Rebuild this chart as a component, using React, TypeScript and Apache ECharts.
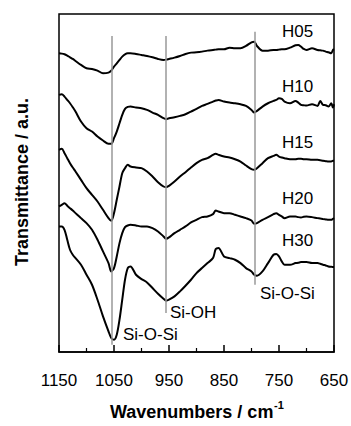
import React, { useEffect, useRef } from "react";
import * as echarts from "echarts";

// Wavenumber grid (cm^-1) shared by all spectra
const wavenumbers = [
  1150, 1145, 1140, 1135, 1130, 1125, 1120, 1110, 1100, 1090, 1080, 1070, 1060, 1055, 1050, 1045, 1040, 1035, 1030, 1025, 1020,
  1010, 1000, 990, 980, 970, 960, 955, 950, 940, 930, 920, 910, 900,
  890, 880, 870, 865, 860, 850, 840, 830, 820, 810, 800, 795, 790,
  780, 770, 760, 755, 750, 745, 740, 730, 720, 715, 710, 705, 700,
  690, 680, 675, 670, 665, 660, 655, 652, 650,
];

// Transmittance (a.u., offset spectra)
const h05 = [
  897, 896, 894, 890, 885, 880, 874, 862, 852, 850, 845, 837, 839, 845, 857, 867, 877, 887, 894, 897, 897,
  895, 892, 889, 885, 880, 877, 878, 880, 884, 889, 895, 899, 900,
  902, 905, 907, 908, 909, 909, 914, 912, 912, 919, 930, 932, 919,
  905, 905, 907, 907, 908, 909, 909, 914, 921, 922, 917, 910, 907,
  912, 907, 906, 905, 902, 900, 897, 907, 909,
];
const h10 = [
  772, 774, 767, 757, 747, 735, 722, 692, 672, 662, 647, 635, 625, 625, 642, 662, 687, 712, 730, 736, 737,
  734, 732, 727, 719, 712, 702, 699, 702, 705, 709, 714, 722, 730,
  739, 745, 752, 755, 757, 752, 749, 747, 744, 739, 727, 719, 724,
  737, 747, 754, 757, 762, 760, 752, 747, 754, 749, 742, 741, 740,
  744, 739, 754, 742, 741, 737, 747, 734, 744,
];
const h15 = [
  607, 610, 597, 582, 567, 554, 542, 517, 492, 472, 452, 427, 402, 394, 417, 457, 497, 537, 552, 562, 557,
  554, 552, 542, 527, 510, 497, 495, 499, 512, 527, 540, 554, 567,
  577, 582, 592, 595, 592, 587, 584, 579, 572, 560, 549, 547, 552,
  567, 582, 589, 592, 587, 584, 582, 579, 579, 580, 580, 579, 579,
  577, 577, 576, 574, 573, 572, 572, 574, 574,
];
const h20 = [
  437, 442, 447, 439, 432, 425, 417, 402, 387, 367, 337, 302, 267, 242, 252, 287, 327, 357, 375, 380, 382,
  380, 377, 377, 372, 362, 347, 340, 344, 357, 367, 377, 389, 397,
  405, 407, 414, 425, 422, 417, 417, 412, 407, 402, 395, 385, 387,
  397, 405, 414, 417, 412, 407, 402, 407, 407, 405, 404, 406, 407,
  405, 402, 401, 399, 398, 397, 397, 400, 402,
];
const h30 = [
  377, 377, 367, 337, 307, 292, 282, 262, 232, 202, 157, 107, 62, 42, 37, 52, 97, 157, 217, 252, 257,
  232, 219, 209, 192, 175, 160, 154, 157, 167, 182, 199, 217, 237,
  252, 267, 282, 309, 312, 287, 282, 277, 267, 252, 242, 232, 229,
  242, 267, 292, 294, 287, 272, 262, 262, 267, 268, 270, 270, 270,
  267, 267, 265, 262, 260, 257, 256, 255, 255,
];

const seriesNames = ["H05", "H10", "H15", "H20", "H30"];
const seriesValues = [h05, h10, h15, h20, h30];

// Band marker lines: wavenumber, lower and upper ends (a.u.)
const markerWavenumbers = [1055, 956, 794];
const markerLower = [22, 117, 202];
const markerUpper = [949, 949, 962];
const bandLabels = ["Si-O-Si", "Si-OH", "Si-O-Si"];

const tickLabels = ["1150", "1050", "950", "850", "750", "650"];

const FONT = '"Liberation Sans", Arial, Helvetica, sans-serif';

export default function App() {
  const ref = useRef<HTMLDivElement>(null);

  useEffect(() => {
    document.body.style.margin = "0";
    if (!ref.current) return;
    const chart = echarts.init(ref.current, undefined, { renderer: "svg" });

    const curves = seriesValues.map((vals, k) => ({
      name: seriesNames[k],
      type: "line",
      xAxisIndex: 0,
      yAxisIndex: 0,
      data: wavenumbers.map((w, i) => [w, vals[i]]),
      showSymbol: false,
      symbol: "none",
      smooth: 0.3,
      z: 3,
      lineStyle: { color: "#000", width: 2 },
    }));

    const markerSeries = {
      name: "bands",
      type: "line",
      xAxisIndex: 0,
      yAxisIndex: 0,
      data: [],
      z: 1,
      markLine: {
        silent: true,
        symbol: ["none", "none"],
        label: { show: false },
        lineStyle: { color: "#999", width: 1.5, type: "solid" },
        data: markerWavenumbers.map((w, i) => [
          { coord: [w, markerLower[i]] },
          { coord: [w, markerUpper[i]] },
        ]),
      },
    };

    const labelPos = [
      { x: 282, y: 31 },
      { x: 282, y: 86 },
      { x: 282, y: 142 },
      { x: 282, y: 198 },
      { x: 282, y: 240 },
    ];
    const bandPos = [
      { x: 123, y: 334 },
      { x: 170, y: 312 },
      { x: 260, y: 293 },
    ];

    const texts: any[] = [];
    seriesNames.forEach((n, i) =>
      texts.push({
        type: "text",
        x: labelPos[i].x,
        y: labelPos[i].y,
        style: { text: n, fill: "#000", fontSize: 17, fontFamily: FONT, align: "left", verticalAlign: "middle" },
      })
    );
    bandLabels.forEach((n, i) =>
      texts.push({
        type: "text",
        x: bandPos[i].x,
        y: bandPos[i].y,
        style: { text: n, fill: "#000", fontSize: 17, fontFamily: FONT, align: "left", verticalAlign: "middle" },
      })
    );
    texts.push({
      type: "text",
      x: 22,
      y: 182,
      rotation: Math.PI / 2,
      style: {
        text: "Transmittance / a.u.",
        fill: "#000",
        fontSize: 18,
        fontWeight: "bold",
        fontFamily: FONT,
        align: "center",
        verticalAlign: "middle",
      },
    });
    texts.push({
      type: "text",
      x: 110,
      y: 412,
      style: {
        text: "Wavenumbers / cm",
        fill: "#000",
        fontSize: 18,
        fontWeight: "bold",
        fontFamily: FONT,
        align: "left",
        verticalAlign: "middle",
      },
    });
    texts.push({
      type: "text",
      x: 274,
      y: 405,
      style: {
        text: "-1",
        fill: "#000",
        fontSize: 11,
        fontWeight: "bold",
        fontFamily: FONT,
        align: "left",
        verticalAlign: "middle",
      },
    });

    chart.setOption({
      animation: false,
      backgroundColor: "#fff",
      grid: {
        left: 59,
        right: 17,
        top: 14,
        bottom: 74,
        show: true,
        borderColor: "#000",
        borderWidth: 1.5,
        backgroundColor: "transparent",
        outerBoundsMode: "none",
      },
      xAxis: [
        {
          type: "value",
          show: false,
          inverse: true,
          min: 650,
          max: 1150,
        },
        {
          type: "value",
          position: "bottom",
          min: 0,
          max: 500,
          interval: 100,
          axisLine: { show: true, lineStyle: { color: "#000", width: 1.5 } },
          axisTick: { show: true, inside: true, length: 7, lineStyle: { color: "#000", width: 1.5 } },
          minorTick: { show: true, splitNumber: 2, length: 4, lineStyle: { color: "#000", width: 1.2 } },
          splitLine: { show: false },
          minorSplitLine: { show: false },
          axisLabel: {
            show: true,
            margin: 20,
            color: "#000",
            fontSize: 17,
            fontFamily: FONT,
            formatter: (v: number) => tickLabels[Math.round(v / 100)] ?? "",
          },
        },
      ],
      yAxis: {
        type: "value",
        show: false,
        min: 0,
        max: 1015,
      },
      series: [markerSeries, ...curves],
      graphic: texts,
    } as any);

    return () => chart.dispose();
  }, []);

  return <div ref={ref} style={{ width: 351, height: 426 }} />;
}
